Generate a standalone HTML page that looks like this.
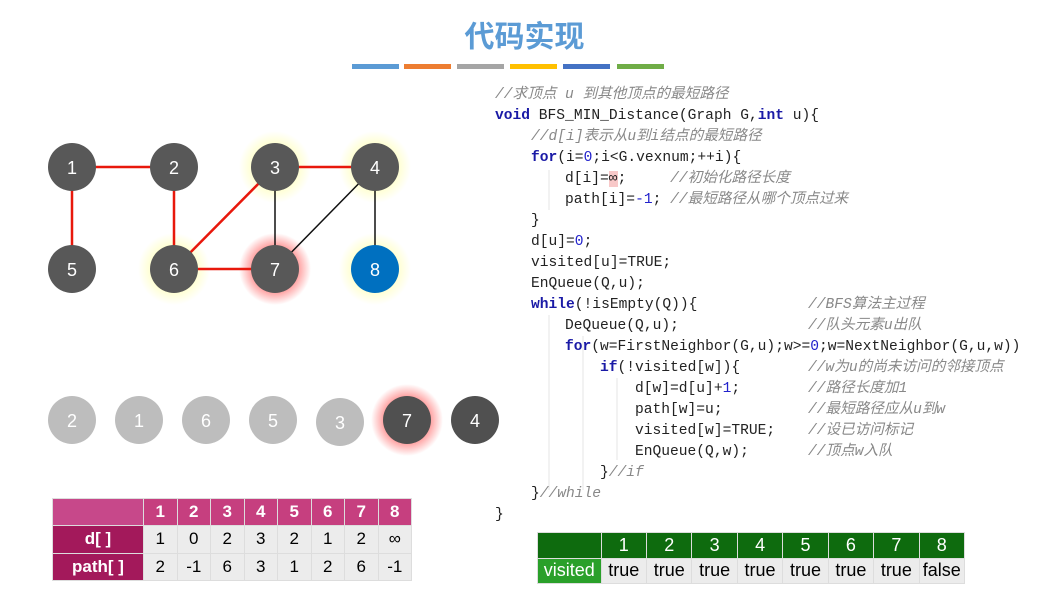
<!DOCTYPE html>
<html><head><meta charset="utf-8"><style>
body{margin:0;width:1037px;height:592px;background:#fff;position:relative;overflow:hidden;font-family:"Liberation Sans","Noto Sans CJK SC",sans-serif}
.t{position:absolute;left:0;width:1037px;top:12px;text-align:center;font-size:30px;color:#5b9bd5;font-weight:bold;padding-left:6px}
.bar{position:absolute;top:64px;height:5px;width:47px}
.code{position:absolute;left:495px;top:85px;font-family:"Liberation Mono","Noto Sans CJK SC",monospace;font-size:14.6px;color:#222}
.l{position:absolute;white-space:pre;height:21px;line-height:21px}
.k{color:#1a1aa6;font-weight:bold}.n{color:#2222cc}.c{color:#888;font-style:italic}
table{position:absolute;border-collapse:collapse;font-size:17px;text-align:center;table-layout:fixed}
td{border:1px solid #ddd;padding:0}
</style></head><body>
<div class="t">代码实现</div>
<div class="bar" style="left:352px;background:#5b9bd5"></div>
<div class="bar" style="left:404px;background:#ed7d31"></div>
<div class="bar" style="left:457px;background:#a5a5a5"></div>
<div class="bar" style="left:510px;background:#ffc000"></div>
<div class="bar" style="left:563px;background:#4472c4"></div>
<div class="bar" style="left:617px;background:#70ad47"></div>
<svg style="position:absolute;left:0;top:0" width="1037" height="592">
<defs><radialGradient id="g"><stop offset="0.5" stop-color="#ff4040" stop-opacity=".7"/><stop offset="1" stop-color="#ff4040" stop-opacity="0"/></radialGradient>
<radialGradient id="y"><stop offset="0.6" stop-color="#ffffc0" stop-opacity=".8"/><stop offset="1" stop-color="#ffffc0" stop-opacity="0"/></radialGradient></defs>
<circle cx="275" cy="167" r="36" fill="url(#y)"/><circle cx="375" cy="167" r="36" fill="url(#y)"/><circle cx="174" cy="269" r="36" fill="url(#y)"/><circle cx="375" cy="269" r="36" fill="url(#y)"/>
<circle cx="275" cy="269" r="36" fill="url(#g)"/><circle cx="407" cy="420" r="36" fill="url(#g)"/>
<g stroke="#e8180c" stroke-width="2.5"><line x1="72" y1="167" x2="174" y2="167"/><line x1="72" y1="167" x2="72" y2="269"/><line x1="174" y1="167" x2="174" y2="269"/><line x1="275" y1="167" x2="375" y2="167"/><line x1="275" y1="167" x2="174" y2="269"/><line x1="174" y1="269" x2="275" y2="269"/></g>
<g stroke="#111" stroke-width="1.5"><line x1="275" y1="167" x2="275" y2="269"/><line x1="375" y1="167" x2="275" y2="269"/><line x1="375" y1="167" x2="375" y2="269"/></g>
<g fill="#585858"><circle cx="72" cy="167" r="24"/><circle cx="174" cy="167" r="24"/><circle cx="275" cy="167" r="24"/><circle cx="375" cy="167" r="24"/><circle cx="72" cy="269" r="24"/><circle cx="174" cy="269" r="24"/><circle cx="275" cy="269" r="24"/></g>
<circle cx="375" cy="269" r="24" fill="#0070c0"/>
<g fill="#bdbdbd"><circle cx="72" cy="420" r="24"/><circle cx="139" cy="420" r="24"/><circle cx="206" cy="420" r="24"/><circle cx="273" cy="420" r="24"/><circle cx="340" cy="422" r="24"/></g>
<g fill="#505050"><circle cx="407" cy="420" r="24"/><circle cx="475" cy="420" r="24"/></g>
<g fill="#fff" font-size="18" text-anchor="middle" font-family="Liberation Sans">
<text x="72" y="174">1</text><text x="174" y="174">2</text><text x="275" y="174">3</text><text x="375" y="174">4</text><text x="72" y="276">5</text><text x="174" y="276">6</text><text x="275" y="276">7</text><text x="375" y="276">8</text>
<text x="72" y="427">2</text><text x="139" y="427">1</text><text x="206" y="427">6</text><text x="273" y="427">5</text><text x="340" y="429">3</text><text x="407" y="427">7</text><text x="475" y="427">4</text></g>
<g stroke="#e4e4e4"><line x1="549" y1="170" x2="549" y2="210"/><line x1="549" y1="315" x2="549" y2="490"/><line x1="583" y1="336" x2="583" y2="490"/><line x1="617" y1="378" x2="617" y2="460"/></g>
</svg>
<div class="code">
<div class="l c" style="top:0;left:0">//求顶点 u 到其他顶点的最短路径</div>
<div class="l" style="top:21px;left:0"><span class="k">void</span> BFS_MIN_Distance(Graph G,<span class="k">int</span> u){</div>
<div class="l c" style="top:42px;left:36px">//d[i]表示从u到i结点的最短路径</div>
<div class="l" style="top:63px;left:36px"><span class="k">for</span>(i=<span class="n">0</span>;i&lt;G.vexnum;++i){</div>
<div class="l" style="top:84px;left:70px">d[i]=<span style="background:#f8c8c8">∞</span>;     <span class="c">//初始化路径长度</span></div>
<div class="l" style="top:105px;left:70px">path[i]=<span class="n">-1</span>; <span class="c">//最短路径从哪个顶点过来</span></div>
<div class="l" style="top:126px;left:36px">}</div>
<div class="l" style="top:147px;left:36px">d[u]=<span class="n">0</span>;</div>
<div class="l" style="top:168px;left:36px">visited[u]=TRUE;</div>
<div class="l" style="top:189px;left:36px">EnQueue(Q,u);</div>
<div class="l" style="top:210px;left:36px"><span class="k">while</span>(!isEmpty(Q)){</div>
<div class="l" style="top:231px;left:70px">DeQueue(Q,u);</div>
<div class="l" style="top:252px;left:70px"><span class="k">for</span>(w=FirstNeighbor(G,u);w&gt;=<span class="n">0</span>;w=NextNeighbor(G,u,w))</div>
<div class="l" style="top:273px;left:105px"><span class="k">if</span>(!visited[w]){</div>
<div class="l" style="top:294px;left:140px">d[w]=d[u]+<span class="n">1</span>;</div>
<div class="l" style="top:315px;left:140px">path[w]=u;</div>
<div class="l" style="top:336px;left:140px">visited[w]=TRUE;</div>
<div class="l" style="top:357px;left:140px">EnQueue(Q,w);</div>
<div class="l" style="top:378px;left:105px">}<span class="c">//if</span></div>
<div class="l" style="top:399px;left:36px">}<span class="c">//while</span></div>
<div class="l" style="top:420px;left:0">}</div>
<div class="l c" style="top:210px;left:313px">//BFS算法主过程</div>
<div class="l c" style="top:231px;left:313px">//队头元素u出队</div>
<div class="l c" style="top:273px;left:313px">//w为u的尚未访问的邻接顶点</div>
<div class="l c" style="top:294px;left:313px">//路径长度加1</div>
<div class="l c" style="top:315px;left:313px">//最短路径应从u到w</div>
<div class="l c" style="top:336px;left:313px">//设已访问标记</div>
<div class="l c" style="top:357px;left:313px">//顶点w入队</div>
</div>
<table style="left:52px;top:498px;width:359px;height:83px">
<colgroup><col style="width:91px"><col span="8" style="width:33.5px"></colgroup>
<tr style="background:#c63f7f;color:#fff;font-weight:bold"><td style="background:#c7488a"></td><td>1</td><td>2</td><td>3</td><td>4</td><td>5</td><td>6</td><td>7</td><td>8</td></tr>
<tr style="background:#ececec"><td style="background:#a3195b;color:#fff;font-weight:bold">d[ ]</td><td>1</td><td>0</td><td>2</td><td>3</td><td>2</td><td>1</td><td>2</td><td>∞</td></tr>
<tr style="background:#ececec"><td style="background:#a3195b;color:#fff;font-weight:bold">path[ ]</td><td>2</td><td>-1</td><td>6</td><td>3</td><td>1</td><td>2</td><td>6</td><td>-1</td></tr>
</table>
<table style="left:537px;top:532px;width:428px;height:52px;font-size:18px">
<colgroup><col style="width:63px"><col span="8" style="width:45px"></colgroup>
<tr style="background:#0e6b0e;color:#fff"><td></td><td>1</td><td>2</td><td>3</td><td>4</td><td>5</td><td>6</td><td>7</td><td>8</td></tr>
<tr style="background:#ececec"><td style="background:#2aa02a;color:#fff">visited</td><td>true</td><td>true</td><td>true</td><td>true</td><td>true</td><td>true</td><td>true</td><td>false</td></tr>
</table>
</body></html>
